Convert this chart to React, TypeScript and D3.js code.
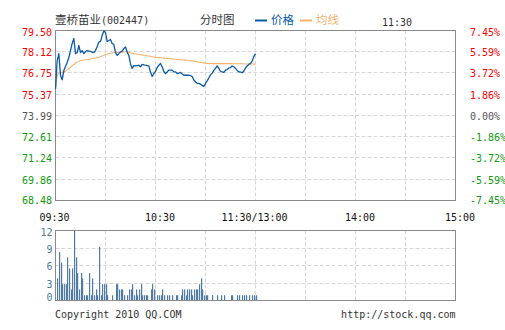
import React from "react";
import * as d3 from "d3";

const priceTicks = [79.5, 78.12, 76.75, 75.37, 73.99, 72.61, 71.24, 69.86, 68.48];
const pctLabels = ["7.45%", "5.59%", "3.72%", "1.86%", "0.00%", "-1.86%", "-3.72%", "-5.59%", "-7.45%"];
const preClose = 73.99;
const timeTicks = [0, 60, 120, 180, 240];
const timeLabels = ["09:30", "10:30", "11:30/13:00", "14:00", "15:00"];
const gridMinutes = [30, 60, 90, 120, 150, 180, 210];
const volTicks = [0, 3, 6, 9, 12];

const price = [
  75.7, 77.55, 78.0, 76.6, 76.3, 76.9, 77.17, 77.43, 77.75, 78.2,
  78.66, 78.98, 78.0, 78.07, 78.53, 78.07, 78.2, 78.0, 78.14, 78.2,
  78.17, 78.14, 78.1, 78.07, 78.2, 78.46, 78.75, 78.79, 79.18, 79.47,
  79.37, 78.79, 78.85, 78.92, 78.66, 78.6, 78.07, 77.88, 78.0, 78.1,
  78.17, 78.33, 78.43, 78.1, 77.88, 77.33, 77.04, 77.23, 77.21, 77.23,
  77.25, 77.15, 77.3, 77.27, 77.25, 77.23, 77.21, 76.81, 76.52, 76.71,
  76.84, 77.1, 77.25, 77.36, 77.15, 76.84, 76.71, 76.81, 76.93, 76.93,
  76.93, 76.82, 76.82, 76.71, 76.74, 76.78, 76.68, 76.6, 76.6, 76.6,
  76.6, 76.58, 76.52, 76.29, 76.18, 76.07, 76.07, 76.03, 75.94, 75.87,
  76.07, 76.23, 76.42, 76.62, 76.74, 76.91, 77.04, 77.2, 77.04, 76.86,
  76.81, 76.78, 76.93, 76.97, 77.07, 77.1, 77.2, 77.15, 77.04, 76.91,
  76.82, 76.81, 76.76, 76.87, 77.07, 77.2, 77.3, 77.36, 77.52, 77.81,
  78.0,
];

const avgPrice = [
  75.72, 76.6, 76.75, 76.78, 76.8, 76.82, 76.85, 76.95, 77.04, 77.12,
  77.22, 77.3, 77.38, 77.45, 77.5, 77.54, 77.57, 77.59, 77.6, 77.62,
  77.63, 77.65, 77.67, 77.7, 77.72, 77.74, 77.76, 77.8, 77.84, 77.9,
  77.95, 77.98, 78.0, 78.02, 78.04, 78.06, 78.07, 78.07, 78.08, 78.09,
  78.1, 78.11, 78.12, 78.12, 78.1, 78.06, 78.03, 78.0, 77.98, 77.96,
  77.94, 77.93, 77.92, 77.9, 77.88, 77.86, 77.85, 77.83, 77.8, 77.78,
  77.76, 77.75, 77.74, 77.73, 77.72, 77.71, 77.7, 77.69, 77.68, 77.67,
  77.66, 77.65, 77.64, 77.63, 77.62, 77.61, 77.6, 77.59, 77.58, 77.57,
  77.55, 77.54, 77.53, 77.51, 77.49, 77.47, 77.45, 77.43, 77.41, 77.4,
  77.38, 77.37, 77.36, 77.36, 77.35, 77.35, 77.35, 77.35, 77.35, 77.35,
  77.35, 77.35, 77.35, 77.35, 77.35, 77.35, 77.34, 77.34, 77.34, 77.34,
  77.34, 77.34, 77.34, 77.34, 77.33, 77.33, 77.33, 77.33, 77.33, 77.32,
  77.32,
];

const volume = [
  0, 3.8, 8.3, 6.5, 2.8, 2.8, 2.8, 7.4, 5.5, 1.9,
  5.5, 12, 7.4, 4.7, 1.9, 4.7, 3.8, 0.9, 0.9, 0.9,
  4.7, 0.9, 3.8, 0.9, 1.9, 0.9, 9.2, 0.9, 2.8, 2.8,
  2.8, 0.9, 0, 0, 0.9, 0, 2.8, 2.8, 1.9, 1.9,
  1.9, 0.9, 0, 0.9, 1.9, 1.9, 2.8, 0.9, 1.9, 0.9,
  1.9, 2.8, 0.9, 0.9, 0.9, 0.9, 0, 1.9, 2.8, 1.9,
  0, 0.9, 0.9, 0.9, 1.9, 0.9, 0, 0.9, 0.9, 0,
  0.9, 0, 0.9, 0.9, 0, 0.9, 1.9, 1.9, 0.9, 1.9,
  1.9, 1.9, 0.9, 1.9, 1.9, 1.9, 2.8, 3.8, 1.9, 0.9,
  0.9, 0.9, 0, 0, 0.9, 0, 0, 0.9, 0, 0.9,
  0, 0.9, 0, 0, 0, 0.9, 0.9, 0, 0, 0.9,
  0.9, 0, 0.9, 0.9, 0.9, 0, 0.9, 0, 0.9, 0.9,
  0.9,
];

const MONO = "'DejaVu Sans Mono', 'Liberation Mono', monospace";
const CJK = "'Noto Sans CJK SC', sans-serif";
const GRID = "#d6d6d6";
const FRAME = "#8a8a8a";
const RED = "#ff0000";
const GREEN = "#109a10";
const NEUTRAL = "#555555";
const BLUE = "#0a5aa8";
const ORANGE = "#f6b26b";
const VOLC = "#4f7aa3";

export default function App() {
  const x = d3.scaleLinear().domain([0, 240]).range([55.5, 455.5]);
  const y = d3.scaleLinear().domain([68.48, 79.5]).range([200.5, 30.5]);
  const yv = d3.scaleLinear().domain([0, 12]).range([300.5, 230.5]);
  const snap = (v: number) => Math.round(v - 0.5) + 0.5;

  const line = d3
    .line<number>()
    .x((_, i) => x(i))
    .y((d) => y(d));

  const colorFor = (p: number) => (p > preClose + 0.001 ? RED : p < preClose - 0.001 ? GREEN : NEUTRAL);
  const labelOffset = (i: number) => (i === 0 || i === 2 ? -1 : 4.5);

  return (
    <svg
      width={505}
      height={330}
      style={{ position: "absolute", left: 0, top: 0, background: "#fff" }}
      shapeRendering="auto"
    >
      <rect x={0} y={0} width={505} height={330} fill="#fff" />
      {/* header */}
      <text x={55} y={24} fontFamily={CJK} fontSize={11.5} fill="#333">
        壹桥苗业<tspan fontFamily={MONO} fontSize={10}>(002447)</tspan>
      </text>
      <text x={200} y={24} fontFamily={CJK} fontSize={11.5} fill="#333">
        分时图
      </text>
      <line x1={255} x2={267} y1={20.5} y2={20.5} stroke={BLUE} strokeWidth={2} />
      <text x={271} y={24} fontFamily={CJK} fontSize={11.5} fill={BLUE}>
        价格
      </text>
      <line x1={300} x2={312} y1={20.5} y2={20.5} stroke={ORANGE} strokeWidth={2} />
      <text x={316} y={24} fontFamily={CJK} fontSize={11.5} fill={ORANGE}>
        均线
      </text>
      <text x={382} y={25.5} fontFamily={MONO} fontSize={10} fill="#333">
        11:30
      </text>

      {/* price grid */}
      {priceTicks.slice(1, -1).map((t) => (
        <line key={"hg" + t} x1={x(0)} x2={x(240)} y1={snap(y(t))} y2={snap(y(t))} stroke={GRID} strokeDasharray="4,2" />
      ))}
      {gridMinutes.map((m) => (
        <line key={"vg" + m} x1={x(m)} x2={x(m)} y1={y(79.5)} y2={y(68.48)} stroke={GRID} strokeDasharray="4,2" />
      ))}
      <rect x={x(0)} y={y(79.5)} width={x(240) - x(0)} height={y(68.48) - y(79.5)} fill="none" stroke={FRAME} />

      {/* price labels */}
      {priceTicks.map((t, i) => (
        <text
          key={"pl" + t}
          x={52}
          y={Math.min(Math.max(snap(y(t)) + 4, 36), 203.5)}
          textAnchor="end"
          fontFamily={MONO}
          fontSize={10}
          fill={colorFor(t)}
        >
          {t.toFixed(2)}
        </text>
      ))}
      {pctLabels.map((l, i) => (
        <text
          key={"pc" + l}
          x={470}
          y={Math.min(Math.max(snap(y(priceTicks[i])) + 4, 36), 203.5)}
          fontFamily={MONO}
          fontSize={10}
          fill={colorFor(priceTicks[i])}
        >
          {l}
        </text>
      ))}

      {/* lines */}
      <path d={line(avgPrice) || ""} fill="none" stroke={ORANGE} strokeWidth={1.1} />
      <path d={line(price) || ""} fill="none" stroke={BLUE} strokeWidth={1.3} strokeLinejoin="round" />

      {/* time labels */}
      {timeTicks.map((m, i) => (
        <text
          key={"tl" + m}
          x={x(m) + labelOffset(i)}
          y={221}
          textAnchor="middle"
          fontFamily={MONO}
          fontSize={10}
          fill="#111"
        >
          {timeLabels[i]}
        </text>
      ))}

      {/* volume panel */}
      {volTicks.slice(1, -1).map((t) => (
        <line key={"vh" + t} x1={x(0)} x2={x(240)} y1={snap(yv(t))} y2={snap(yv(t))} stroke={GRID} strokeDasharray="4,2" />
      ))}
      {gridMinutes.map((m) => (
        <line key={"vv" + m} x1={x(m)} x2={x(m)} y1={yv(12)} y2={yv(0)} stroke={GRID} strokeDasharray="4,2" />
      ))}
      {volume.map((v, i) =>
        v > 0 ? (
          <rect
            key={"vb" + i}
            x={Math.round(x(i))}
            y={yv(v)}
            width={1.2}
            height={yv(0) - yv(v)}
            fill={VOLC}
          />
        ) : null
      )}
      <rect x={x(0)} y={yv(12)} width={x(240) - x(0)} height={yv(0) - yv(12)} fill="none" stroke={FRAME} />
      {volTicks.map((t) => (
        <text
          key={"vl" + t}
          x={52.5}
          y={Math.min(Math.max(snap(yv(t)) + 4.5, 236), 300.5)}
          textAnchor="end"
          fontFamily={MONO}
          fontSize={10}
          fill={VOLC}
        >
          {t}
        </text>
      ))}

      {/* footer */}
      <text x={55} y={317.5} fontFamily={MONO} fontSize={10} fill="#333">
        Copyright 2010 QQ.COM
      </text>
      <text x={455.5} y={317.5} textAnchor="end" fontFamily={MONO} fontSize={10} fill="#333">
        http://stock.qq.com
      </text>
    </svg>
  );
}
